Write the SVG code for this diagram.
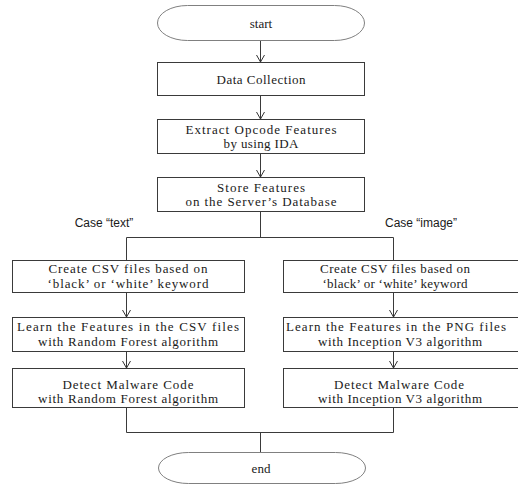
<svg xmlns="http://www.w3.org/2000/svg" width="518" height="485" viewBox="0 0 518 485">
  <defs>
    <marker id="arrow" viewBox="0 0 10 10" refX="10" refY="5" markerWidth="10" markerHeight="10" markerUnits="userSpaceOnUse" orient="auto">
      <path d="M3,1 L10,5 L3,9" fill="none" stroke="#333" stroke-width="1"/>
    </marker>
  </defs>
  <style>
    .box { fill: #fff; stroke: #3a3a3a; stroke-width: 1; }
    .term { fill: #fff; stroke: #808080; stroke-width: 1; }
    .t { font-family: "Liberation Serif", "Times New Roman", serif; font-size: 13px; fill: #1a1a1a; text-anchor: middle; }
    .lbl { font-family: "Liberation Sans", Arial, sans-serif; font-size: 12px; fill: #1a1a1a; text-anchor: middle; }
    .edge { fill: none; stroke: #3a3a3a; stroke-width: 1; }
    .arr { marker-end: url(#arrow); }
  </style>
  <rect width="518" height="485" fill="#fff"/>

  <!-- connectors -->
  <g id="connectors">
    <line class="edge arr" x1="260.5" y1="40" x2="260.5" y2="62"/>
    <line class="edge arr" x1="260.5" y1="96" x2="260.5" y2="119"/>
    <line class="edge arr" x1="260.5" y1="154" x2="260.5" y2="177"/>
    <polyline class="edge" points="260.5,212 260.5,237.5"/>
    <polyline class="edge" points="126.5,260 126.5,237.5 393.5,237.5 393.5,260"/>
    <line class="edge arr" x1="126.5" y1="292" x2="126.5" y2="317"/>
    <line class="edge arr" x1="126.5" y1="352" x2="126.5" y2="368"/>
    <line class="edge arr" x1="393.5" y1="292" x2="393.5" y2="317"/>
    <line class="edge arr" x1="393.5" y1="352" x2="393.5" y2="368"/>
    <polyline class="edge" points="126.5,408 126.5,432.5 393.5,432.5 393.5,408"/>
    <line class="edge" x1="260.5" y1="432.5" x2="260.5" y2="452"/>
  </g>

  <g id="start">
    <rect class="term" x="157.5" y="5.5" width="207" height="35" rx="30" ry="17.5"/>
    <text class="t" x="261" y="28">start</text>
  </g>

  <g id="data-collection">
    <rect class="box" x="157.5" y="62.5" width="207" height="33"/>
    <text class="t" x="261" y="84" textLength="89">Data Collection</text>
  </g>

  <g id="extract-features">
    <rect class="box" x="157.5" y="119.5" width="207" height="34"/>
    <text class="t" x="261" y="133.5" textLength="151">Extract  Opcode Features</text>
    <text class="t" x="261" y="148" textLength="75">by using IDA</text>
  </g>

  <g id="store-features">
    <rect class="box" x="157.5" y="177.5" width="207" height="34"/>
    <text class="t" x="261" y="191.5" textLength="88">Store Features</text>
    <text class="t" x="261" y="206" textLength="151">on the Server’s Database</text>
  </g>

  <g id="case-text">
    <text class="lbl" x="104" y="227">Case “text”</text>
  </g>
  <g id="case-image">
    <text class="lbl" x="421" y="227">Case “image”</text>
  </g>

  <!-- left branch -->
  <g id="create-csv-text">
    <rect class="box" x="12.5" y="260.5" width="232" height="32"/>
    <text class="t" x="128" y="273" textLength="159">Create CSV files based on</text>
    <text class="t" x="128" y="287.5" textLength="161">‘black’ or ‘white’ keyword</text>
  </g>
  <g id="learn-rf">
    <rect class="box" x="12.5" y="317.5" width="232" height="34"/>
    <text class="t" x="128" y="331" textLength="222">Learn the Features in the CSV files</text>
    <text class="t" x="128" y="346" textLength="180">with Random Forest algorithm</text>
  </g>
  <g id="detect-rf">
    <rect class="box" x="12.5" y="368.5" width="232" height="39"/>
    <text class="t" x="128" y="389" textLength="131">Detect Malware Code</text>
    <text class="t" x="128" y="403" textLength="180">with Random Forest algorithm</text>
  </g>

  <!-- right branch -->
  <g id="create-csv-image">
    <rect class="box" x="283.5" y="260.5" width="240" height="32"/>
    <text class="t" x="395" y="273" textLength="150">Create CSV files based on</text>
    <text class="t" x="395" y="287.5" textLength="145">‘black’ or ‘white’ keyword</text>
  </g>
  <g id="learn-inception">
    <rect class="box" x="283.5" y="317.5" width="240" height="34"/>
    <text class="t" x="396" y="331" textLength="220">Learn the Features in the PNG files</text>
    <text class="t" x="400" y="346" textLength="164">with Inception V3 algorithm</text>
  </g>
  <g id="detect-inception">
    <rect class="box" x="283.5" y="368.5" width="240" height="39"/>
    <text class="t" x="399" y="389" textLength="130">Detect Malware Code</text>
    <text class="t" x="400" y="403" textLength="164">with Inception V3 algorithm</text>
  </g>

  <g id="end">
    <rect class="term" x="158.5" y="452.5" width="207" height="31" rx="30" ry="15.5"/>
    <text class="t" x="261" y="473">end</text>
  </g>
</svg>
